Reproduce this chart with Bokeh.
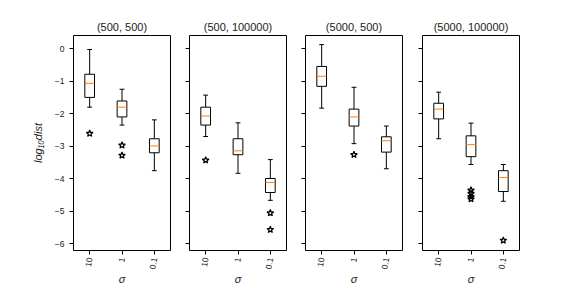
from bokeh.plotting import figure
from bokeh.layouts import row
from bokeh.models import Range1d, FixedTicker
from bokeh.embed import file_html
from bokeh.resources import INLINE

# ---- data ----
titles = ["(500, 500)", "(500, 100000)", "(5000, 500)", "(5000, 100000)"]
sigma_labels = ["10", "1", "0.1"]
positions = [1, 2, 3]

whisker_hi = [[-0.03, -1.25, -2.19], [-1.43, -2.28, -3.41], [0.12, -1.19, -2.38], [-1.34, -2.29, -3.56]]
q3 =         [[-0.79, -1.61, -2.77], [-1.80, -2.77, -3.99], [-0.55, -1.86, -2.71], [-1.68, -2.68, -3.75]]
median =     [[-1.07, -1.80, -2.99], [-2.07, -3.14, -4.11], [-0.85, -2.10, -2.83], [-1.86, -2.95, -3.96]]
q1 =         [[-1.50, -2.10, -3.20], [-2.35, -3.26, -4.42], [-1.16, -2.38, -3.18], [-2.16, -3.32, -4.39]]
whisker_lo = [[-1.80, -2.35, -3.75], [-2.70, -3.83, -4.66], [-1.83, -2.92, -3.69], [-2.77, -3.56, -4.69]]

outlier_pos = [[1, 2, 2], [1, 3, 3], [2], [2, 2, 2, 2, 3]]
outlier_val = [[-2.61, -2.97, -3.28], [-3.43, -5.05, -5.56], [-3.26], [-4.35, -4.45, -4.55, -4.62, -5.89]]

y_ticks = [-6, -5, -4, -3, -2, -1, 0]

# ---- styling ----
FONT = "Liberation Sans"
BOX_HALF = 0.15
CAP_HALF = 0.075
ORANGE = "#ff7f0e"
TXT = "#1a1a1a"

yr = Range1d(-6.2, 0.4)
borders = [(73, 9), (10, 9), (10, 10), (10, 10)]
figs = []
for i in range(4):
    bl, br = borders[i]
    p = figure(width=bl + 97 + br, height=288, x_range=Range1d(0.5, 3.5), y_range=yr,
               output_backend="svg", toolbar_location=None, title=titles[i],
               min_border_left=bl, min_border_right=br, min_border_top=35, min_border_bottom=36)
    p.title.align = "center"
    p.title.text_font = FONT
    p.title.text_font_style = "normal"
    p.title.text_font_size = "11px"
    p.title.text_color = TXT
    p.title.standoff = 5
    p.grid.visible = False
    p.outline_line_color = "black"
    p.outline_line_width = 1
    p.background_fill_color = "white"
    p.border_fill_color = "white"

    xs = positions
    p.quad(left=[x - BOX_HALF for x in xs], right=[x + BOX_HALF for x in xs],
           top=q3[i], bottom=q1[i], fill_color=None, line_color="black", line_width=1)
    p.segment(x0=[x - BOX_HALF for x in xs], x1=[x + BOX_HALF for x in xs],
              y0=median[i], y1=median[i], line_color=ORANGE, line_width=1)
    p.segment(x0=xs, x1=xs, y0=q3[i], y1=whisker_hi[i], line_color="black", line_width=1)
    p.segment(x0=xs, x1=xs, y0=q1[i], y1=whisker_lo[i], line_color="black", line_width=1)
    p.segment(x0=[x - CAP_HALF for x in xs], x1=[x + CAP_HALF for x in xs],
              y0=whisker_hi[i], y1=whisker_hi[i], line_color="black", line_width=1)
    p.segment(x0=[x - CAP_HALF for x in xs], x1=[x + CAP_HALF for x in xs],
              y0=whisker_lo[i], y1=whisker_lo[i], line_color="black", line_width=1)
    p.scatter(x=outlier_pos[i], y=outlier_val[i], marker="star", size=7,
              fill_color=None, line_color="black", line_width=1.2)

    # x axis
    xa = p.xaxis[0]
    xa.ticker = FixedTicker(ticks=positions)
    xa.major_label_overrides = {pos: lab for pos, lab in zip(positions, sigma_labels)}
    xa.major_label_orientation = 1.4
    xa.major_label_text_font = FONT
    xa.major_label_text_font_size = "8.5px"
    xa.major_label_text_color = TXT
    xa.major_label_standoff = 3
    xa.major_tick_out = 4
    xa.major_tick_in = 0
    xa.minor_tick_out = 0
    xa.minor_tick_in = 0
    xa.major_tick_line_color = "black"
    xa.axis_line_color = None
    xa.axis_label = "σ"
    xa.axis_label_text_font = FONT
    xa.axis_label_text_font_style = "italic"
    xa.axis_label_text_font_size = "11px"
    xa.axis_label_text_color = TXT
    xa.axis_label_standoff = 0

    # y axis
    ya = p.yaxis[0]
    ya.ticker = FixedTicker(ticks=y_ticks)
    ya.major_tick_out = 4
    ya.major_tick_in = 0
    ya.minor_tick_out = 0
    ya.minor_tick_in = 0
    ya.major_tick_line_color = "black"
    ya.axis_line_color = None
    if i == 0:
        ya.major_label_overrides = {t: ("\u2212%d" % -t if t < 0 else "%d" % t) for t in y_ticks}
        ya.major_label_text_font = FONT
        ya.major_label_text_font_size = "8.5px"
        ya.major_label_text_color = TXT
        ya.major_label_standoff = 5
        ya.axis_label = "log\u2081\u2080dist"
        ya.axis_label_text_font = FONT
        ya.axis_label_text_font_style = "italic"
        ya.axis_label_text_font_size = "11px"
        ya.axis_label_text_color = TXT
        ya.axis_label_standoff = 8
    else:
        ya.major_label_overrides = {t: "" for t in y_ticks}
        ya.major_label_standoff = 0
    figs.append(p)

layout = row(*figs, spacing=0)
open("out.html", "w").write(file_html(layout, INLINE))
